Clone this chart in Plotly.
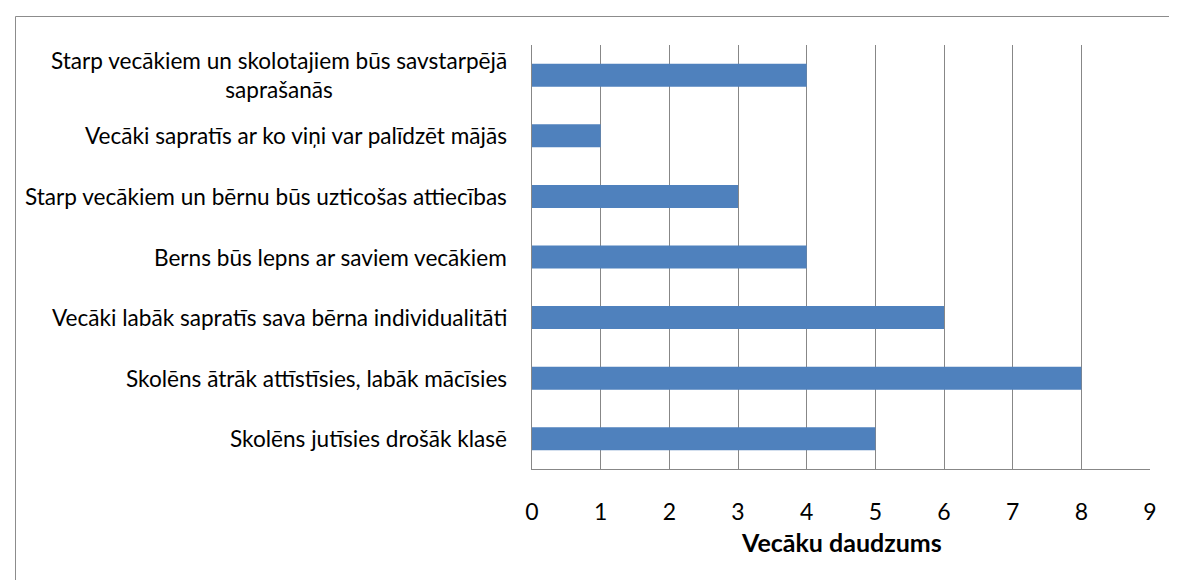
import plotly.graph_objects as go

# Data (top to bottom as displayed)
categories = [
    "Starp vecākiem un skolotajiem būs savstarpējā<br>saprašanās",
    "Vecāki sapratīs ar ko viņi var palīdzēt mājās",
    "Starp vecākiem un bērnu būs uzticošas attiecības",
    "Berns būs lepns ar saviem vecākiem",
    "Vecāki labāk sapratīs sava bērna individualitāti",
    "Skolēns ātrāk attīstīsies, labāk mācīsies",
    "Skolēns jutīsies drošāk klasē",
]
values = [4, 1, 3, 4, 6, 8, 5]
x_ticks = [0, 1, 2, 3, 4, 5, 6, 7, 8, 9]
x_title = "Vecāku daudzums"

W, H = 1177, 580
L, R, T, B = 524, 35, 37, 119
pw, ph = W - L - R, H - T - B

FONT = "Lato"
GRID = "#878787"

fig = go.Figure()
fig.add_trace(go.Bar(
    x=values, y=categories, orientation="h",
    marker=dict(color="#4F81BD", line=dict(width=0)),
    width=0.38, hoverinfo="x+y",
))

annotations = []
for c in categories:
    annotations.append(dict(
        x=0, xref="paper", y=c, yref="y", xanchor="right", yanchor="middle",
        xshift=-23, align="center", showarrow=False, text=c,
        font=dict(family=FONT, size=22.6, color="#000000"),
    ))
annotations.append(dict(
    x=0.5, xref="paper", y=0, yref="paper", yshift=-73, yanchor="middle",
    xanchor="center", showarrow=False, text="<b>" + x_title + "</b>",
    font=dict(family=FONT, size=25, color="#000000"),
))

def px_x(p):
    return (p - L) / pw

def px_y(p):
    return (H - B - p) / ph

shapes = [dict(
    type="rect", xref="paper", yref="paper", layer="below",
    x0=px_x(7.5), x1=px_x(1176.5), y0=px_y(590), y1=px_y(8.5),
    line=dict(color="#8c8c8c", width=1), fillcolor="rgba(0,0,0,0)",
)]

fig.update_layout(
    width=W, height=H,
    margin=dict(l=L, r=R, t=T, b=B, autoexpand=False),
    paper_bgcolor="white", plot_bgcolor="white",
    showlegend=False, bargap=0.62,
    annotations=annotations, shapes=shapes,
    font=dict(family=FONT, color="#000000"),
    xaxis=dict(
        range=[0, 9], tickvals=x_ticks, showgrid=True, gridcolor=GRID, gridwidth=1.3,
        showline=True, linecolor=GRID, linewidth=1.3, zeroline=False,
        ticks="", ticklabelstandoff=22,
        tickfont=dict(family=FONT, size=23, color="#000000"),
        fixedrange=True,
    ),
    yaxis=dict(
        autorange="reversed", showticklabels=False, showgrid=False,
        showline=True, linecolor=GRID, linewidth=1.3, ticks="", fixedrange=True,
    ),
)

fig.write_html("out.html")
